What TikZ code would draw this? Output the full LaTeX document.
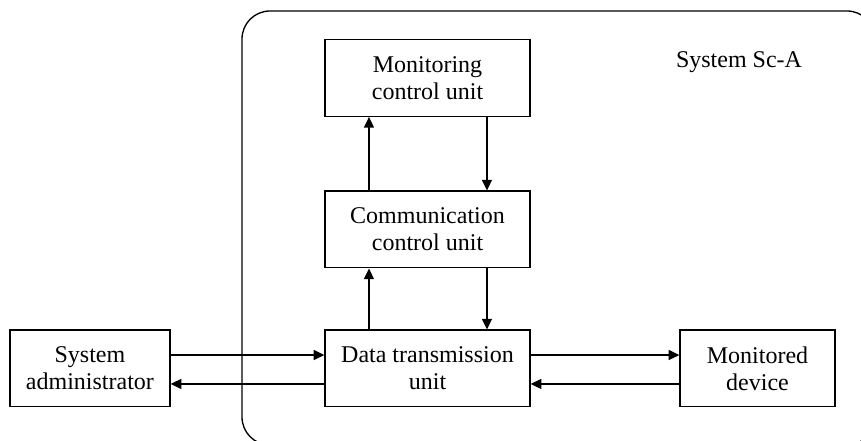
\documentclass[tikz,border=0pt]{standalone}
\usepackage{fontspec}
\setmainfont{Liberation Serif}
\usetikzlibrary{arrows.meta}
\tikzstyle{unit} = [rectangle, minimum width=153.75pt, minimum height=57.5pt, text centered, align=center, draw=black, line width=1pt, font=\fontsize{18}{20.25}\selectfont]
\tikzstyle{arrow} = [line width=1pt,->,>={Triangle[length=8pt,width=7.5pt]}]
\begin{document}
\begin{tikzpicture} [x=0.75pt, y=0.75pt, node distance=104.25pt]
\useasboundingbox (0,0) rectangle (861,441);
\begin{scope}
\clip (0,0) rectangle (861,441);
\draw [line width=1pt, rounded corners=21pt] (242,-4) rectangle (875,430);
\end{scope}
\node (label) at (739,379) [font=\fontsize{18}{20.25}\selectfont] {System Sc-A};

\node (data) [unit] at (427.5,72.5) {Data transmission\\unit};
\node (comm) [unit, above of=data] {Communication\\control unit};
\node (mon) [unit, above of=comm, yshift=9.4pt] {Monitoring\\control unit};
\node (admin) [unit, minimum width=120pt, left of=data, xshift=-148.9pt] {System\\administrator};
\node (device) [unit, minimum width=116.25pt, right of=data, xshift=143.25pt] {Monitored\\device};

\draw [arrow] ([xshift=-43.9pt]comm.north) -- ([xshift=-43.9pt]mon.south);
\draw [arrow] ([xshift=44.6pt]mon.south) -- ([xshift=44.6pt]comm.north);
\draw [arrow] ([xshift=-43.9pt]data.north) -- ([xshift=-43.9pt]comm.south);
\draw [arrow] ([xshift=44.6pt]comm.south) -- ([xshift=44.6pt]data.north);
\draw [arrow] ([yshift=10.1pt]admin.east) -- ([yshift=10.1pt]data.west);
\draw [arrow] ([yshift=-11.6pt]data.west) -- ([yshift=-11.6pt]admin.east);
\draw [arrow] ([yshift=10.1pt]data.east) -- ([yshift=10.1pt]device.west);
\draw [arrow] ([yshift=-11.6pt]device.west) -- ([yshift=-11.6pt]data.east);
\end{tikzpicture}
\end{document}
